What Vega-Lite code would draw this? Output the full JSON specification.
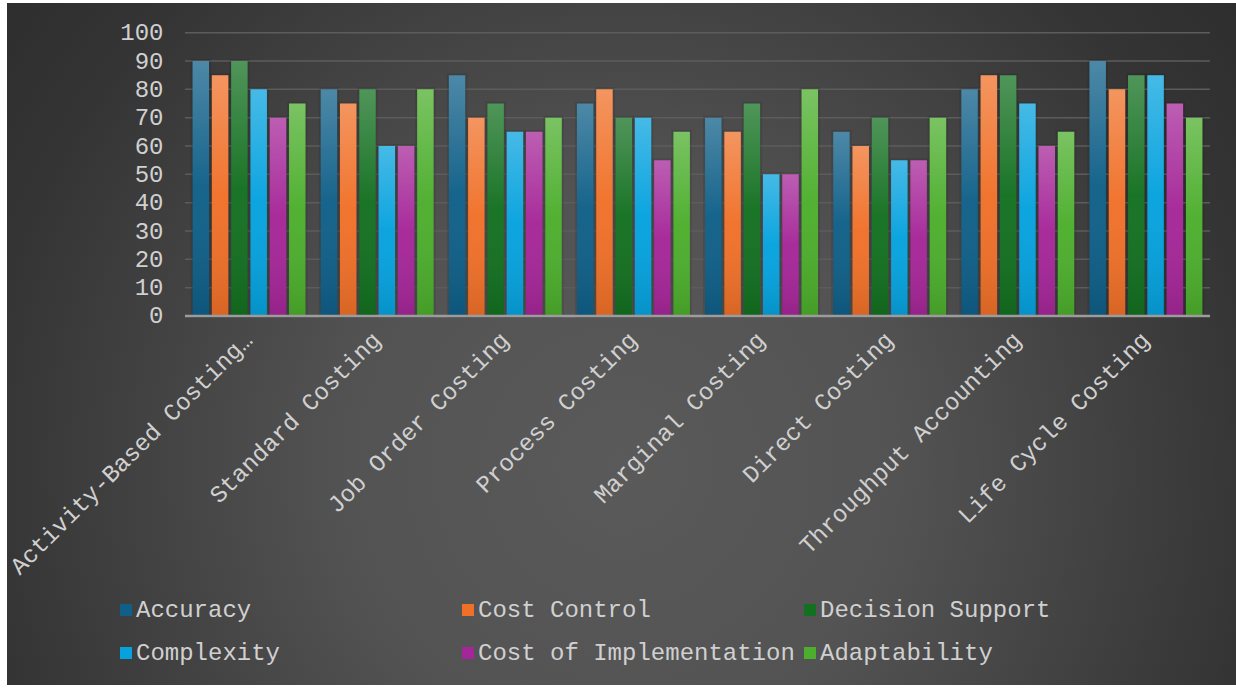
{
  "$schema": "https://vega.github.io/schema/vega-lite/v6.json",
  "width": 1229,
  "height": 682,
  "autosize": {"type": "none"},
  "padding": {"left": 7, "top": 3, "right": 0, "bottom": 3},
  "background": "#ffffff",
  "view": {
    "stroke": null,
    "fill": {
      "gradient": "radial",
      "x1": 0.5, "y1": 0.6, "r1": 0,
      "x2": 0.5, "y2": 0.6, "r2": 0.75,
      "stops": [
        {"offset": 0, "color": "#5a5a5a"},
        {"offset": 0.3, "color": "#535353"},
        {"offset": 0.7, "color": "#343434"},
        {"offset": 1, "color": "#272727"}
      ]
    }
  },
  "config": {
    "font": "Liberation Mono",
    "axis": {"labelFont": "Liberation Mono", "labelFontSize": 24, "labelColor": "#d0d0d0"},
    "legend": {"labelFont": "Liberation Mono", "labelFontSize": 24, "labelColor": "#d0d0d0"}
  },
  "datasets": {
    "scores": [
      {"method": "Activity-Based Costing…", "criterion": "Accuracy", "score": 90},
      {"method": "Activity-Based Costing…", "criterion": "Cost Control", "score": 85},
      {"method": "Activity-Based Costing…", "criterion": "Decision Support", "score": 90},
      {"method": "Activity-Based Costing…", "criterion": "Complexity", "score": 80},
      {"method": "Activity-Based Costing…", "criterion": "Cost of Implementation", "score": 70},
      {"method": "Activity-Based Costing…", "criterion": "Adaptability", "score": 75},
      {"method": "Standard Costing", "criterion": "Accuracy", "score": 80},
      {"method": "Standard Costing", "criterion": "Cost Control", "score": 75},
      {"method": "Standard Costing", "criterion": "Decision Support", "score": 80},
      {"method": "Standard Costing", "criterion": "Complexity", "score": 60},
      {"method": "Standard Costing", "criterion": "Cost of Implementation", "score": 60},
      {"method": "Standard Costing", "criterion": "Adaptability", "score": 80},
      {"method": "Job Order Costing", "criterion": "Accuracy", "score": 85},
      {"method": "Job Order Costing", "criterion": "Cost Control", "score": 70},
      {"method": "Job Order Costing", "criterion": "Decision Support", "score": 75},
      {"method": "Job Order Costing", "criterion": "Complexity", "score": 65},
      {"method": "Job Order Costing", "criterion": "Cost of Implementation", "score": 65},
      {"method": "Job Order Costing", "criterion": "Adaptability", "score": 70},
      {"method": "Process Costing", "criterion": "Accuracy", "score": 75},
      {"method": "Process Costing", "criterion": "Cost Control", "score": 80},
      {"method": "Process Costing", "criterion": "Decision Support", "score": 70},
      {"method": "Process Costing", "criterion": "Complexity", "score": 70},
      {"method": "Process Costing", "criterion": "Cost of Implementation", "score": 55},
      {"method": "Process Costing", "criterion": "Adaptability", "score": 65},
      {"method": "Marginal Costing", "criterion": "Accuracy", "score": 70},
      {"method": "Marginal Costing", "criterion": "Cost Control", "score": 65},
      {"method": "Marginal Costing", "criterion": "Decision Support", "score": 75},
      {"method": "Marginal Costing", "criterion": "Complexity", "score": 50},
      {"method": "Marginal Costing", "criterion": "Cost of Implementation", "score": 50},
      {"method": "Marginal Costing", "criterion": "Adaptability", "score": 80},
      {"method": "Direct Costing", "criterion": "Accuracy", "score": 65},
      {"method": "Direct Costing", "criterion": "Cost Control", "score": 60},
      {"method": "Direct Costing", "criterion": "Decision Support", "score": 70},
      {"method": "Direct Costing", "criterion": "Complexity", "score": 55},
      {"method": "Direct Costing", "criterion": "Cost of Implementation", "score": 55},
      {"method": "Direct Costing", "criterion": "Adaptability", "score": 70},
      {"method": "Throughput Accounting", "criterion": "Accuracy", "score": 80},
      {"method": "Throughput Accounting", "criterion": "Cost Control", "score": 85},
      {"method": "Throughput Accounting", "criterion": "Decision Support", "score": 85},
      {"method": "Throughput Accounting", "criterion": "Complexity", "score": 75},
      {"method": "Throughput Accounting", "criterion": "Cost of Implementation", "score": 60},
      {"method": "Throughput Accounting", "criterion": "Adaptability", "score": 65},
      {"method": "Life Cycle Costing", "criterion": "Accuracy", "score": 90},
      {"method": "Life Cycle Costing", "criterion": "Cost Control", "score": 80},
      {"method": "Life Cycle Costing", "criterion": "Decision Support", "score": 85},
      {"method": "Life Cycle Costing", "criterion": "Complexity", "score": 85},
      {"method": "Life Cycle Costing", "criterion": "Cost of Implementation", "score": 75},
      {"method": "Life Cycle Costing", "criterion": "Adaptability", "score": 70}
    ],
    "ticks": [
      {"v": 10}, {"v": 20}, {"v": 30}, {"v": 40}, {"v": 50},
      {"v": 60}, {"v": 70}, {"v": 80}, {"v": 90}, {"v": 100}
    ],
    "base": [{"v": 0}]
  },
  "layer": [
    {
      "data": {"name": "ticks"},
      "mark": {"type": "rule", "color": "#5c5c5c", "strokeWidth": 1.5},
      "encoding": {
        "y": {"field": "v", "type": "quantitative",
              "scale": {"domain": [-130.25, 110.48], "nice": false, "zero": false},
              "axis": {"title": null, "values": [0, 10, 20, 30, 40, 50, 60, 70, 80, 90, 100],
                       "offset": -178, "domain": false, "ticks": false, "tickSize": 0, "grid": false,
                       "labelPadding": 22, "labelOverlap": false}},
        "x": {"datum": "Activity-Based Costing…", "type": "nominal", "bandPosition": 0,
              "scale": {"domain": ["Activity-Based Costing…", "Standard Costing", "Job Order Costing", "Process Costing", "Marginal Costing", "Direct Costing", "Throughput Accounting", "Life Cycle Costing"],
                        "paddingInner": 0, "paddingOuter": 0.796, "align": 0.8725},
              "axis": {"title": null, "offset": -369, "domain": false, "ticks": false, "tickSize": 0,
                       "labelAngle": -45, "labelAlign": "right", "labelBaseline": "middle",
                       "labelPadding": 20, "labelLimit": 600, "labelOverlap": false}},
        "x2": {"datum": "Life Cycle Costing", "bandPosition": 1}
      }
    },
    {
      "data": {"name": "scores"},
      "mark": {"type": "bar", "color": "#000000", "opacity": 0.25, "stroke": "#000000", "strokeWidth": 4, "strokeOpacity": 0.35},
      "encoding": {
        "x": {"field": "method", "type": "nominal", "sort": null},
        "xOffset": {"field": "criterion", "type": "nominal", "sort": null,
                    "scale": {"domain": ["Accuracy", "Cost Control", "Decision Support", "Complexity", "Cost of Implementation", "Adaptability"], "paddingInner": 0.145, "paddingOuter": 0.392}},
        "y": {"field": "score", "type": "quantitative"},
        "y2": {"datum": 0}
      }
    },
    {
      "data": {"name": "scores"},
      "mark": {"type": "bar"},
      "encoding": {
        "x": {"field": "method", "type": "nominal", "sort": null},
        "xOffset": {"field": "criterion", "type": "nominal", "sort": null},
        "y": {"field": "score", "type": "quantitative"},
        "y2": {"datum": 0},
        "color": {"field": "criterion", "type": "nominal", "sort": null,
                  "scale": {"domain": ["Accuracy", "Cost Control", "Decision Support", "Complexity", "Cost of Implementation", "Adaptability"],
                            "range": ["#0f5f88", "#f07028", "#137020", "#05a2de", "#a52698", "#4cae2c"]},
                  "legend": {"orient": "none", "legendX": 107, "legendY": 595, "columns": 3, "direction": "horizontal", "title": null,
                             "symbolType": "square", "symbolSize": 144, "symbolStrokeWidth": 0,
                             "labelOffset": -2, "columnPadding": 3, "rowPadding": 19, "gridAlign": "all",
                             "labelLimit": 500, "padding": 0}}
      }
    },
    {
      "data": {"name": "scores"},
      "mark": {
        "type": "bar",
        "fill": {
          "gradient": "linear", "x1": 0, "y1": 0, "x2": 0, "y2": 1,
          "stops": [
            {"offset": 0, "color": "rgba(255,255,255,0.26)"},
            {"offset": 0.5, "color": "rgba(255,255,255,0.03)"},
            {"offset": 1, "color": "rgba(0,0,0,0.1)"}
          ]
        }
      },
      "encoding": {
        "x": {"field": "method", "type": "nominal", "sort": null},
        "xOffset": {"field": "criterion", "type": "nominal", "sort": null},
        "y": {"field": "score", "type": "quantitative"},
        "y2": {"datum": 0}
      }
    },
    {
      "data": {"name": "base"},
      "mark": {"type": "rule", "color": "#9c9c9c", "strokeWidth": 2.5},
      "encoding": {
        "y": {"field": "v", "type": "quantitative"},
        "x": {"datum": "Activity-Based Costing…", "type": "nominal", "bandPosition": 0},
        "x2": {"datum": "Life Cycle Costing", "bandPosition": 1}
      }
    }
  ]
}
